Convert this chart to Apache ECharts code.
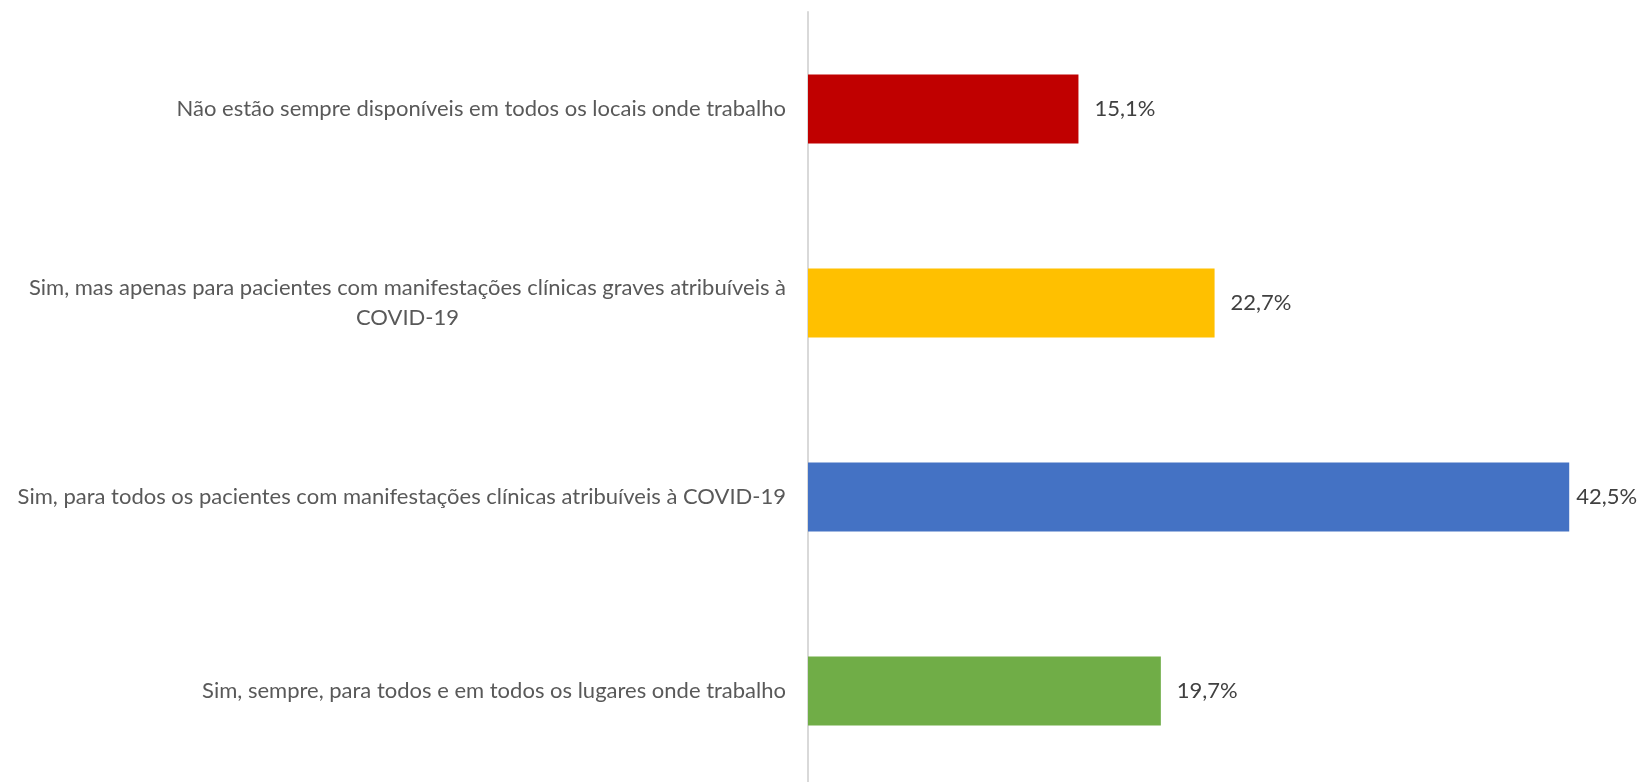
<!DOCTYPE html>
<html>
<head>
    <meta charset="utf-8">
    <title>Disponibilidade</title>
    <script src="https://cdn.jsdelivr.net/npm/echarts@6/dist/echarts.min.js"></script>
    <style>
        html, body { margin: 0; padding: 0; background: #fff; }
        #main { width: 1639px; height: 782px; }
    </style>
</head>
<body>
    <div id="main"></div>
    <script type="text/javascript">
        // categorias (de cima para baixo)
        var categorias = [
            'Não estão sempre disponíveis em todos os locais onde trabalho',
            'Sim, mas apenas para pacientes com manifestações clínicas graves atribuíveis à\nCOVID-19',
            'Sim, para todos os pacientes com manifestações clínicas atribuíveis à COVID-19',
            'Sim, sempre, para todos e em todos os lugares onde trabalho'
        ];
        var valores = [15.1, 22.7, 42.5, 19.7];
        var cores = ['#C00000', '#FFC000', '#4472C4', '#70AD47'];

        var myChart = echarts.init(document.getElementById('main'));

        var option = {
            animation: false,
            grid: {
                left: 808,
                width: 806,
                top: 12,
                height: 776,
                outerBoundsMode: 'none'
            },
            xAxis: {
                type: 'value',
                min: 0,
                max: 45,
                show: false
            },
            yAxis: {
                type: 'category',
                inverse: true,
                data: categorias,
                axisLine: { show: true, lineStyle: { color: '#D9D9D9', width: 2 } },
                axisTick: { show: false },
                axisLabel: {
                    margin: 22,
                    fontFamily: 'Lato',
                    fontSize: 22,
                    color: '#595959',
                    lineHeight: 30,
                    formatter: function (v) {
                        return v.split('\n').map(function (l) { return '{c|' + l + '}'; }).join('\n');
                    },
                    rich: {
                        c: { align: 'center', fontFamily: 'Lato', fontSize: 22, color: '#595959', lineHeight: 30 }
                    }
                }
            },
            series: [{
                type: 'bar',
                barWidth: '35.6%',
                data: valores.map(function (v, i) {
                    var item = { value: v, itemStyle: { color: cores[i] } };
                    // o rótulo da barra mais longa fica mais perto para caber
                    if (v === 42.5) item.label = { distance: 7 };
                    return item;
                }),
                label: {
                    show: true,
                    position: 'right',
                    distance: 16,
                    fontFamily: 'Lato',
                    fontSize: 22,
                    color: '#404040',
                    formatter: function (p) {
                        return p.value.toFixed(1).replace('.', ',') + '%';
                    }
                }
            }]
        };
        myChart.setOption(option);
    </script>
</body>
</html>
